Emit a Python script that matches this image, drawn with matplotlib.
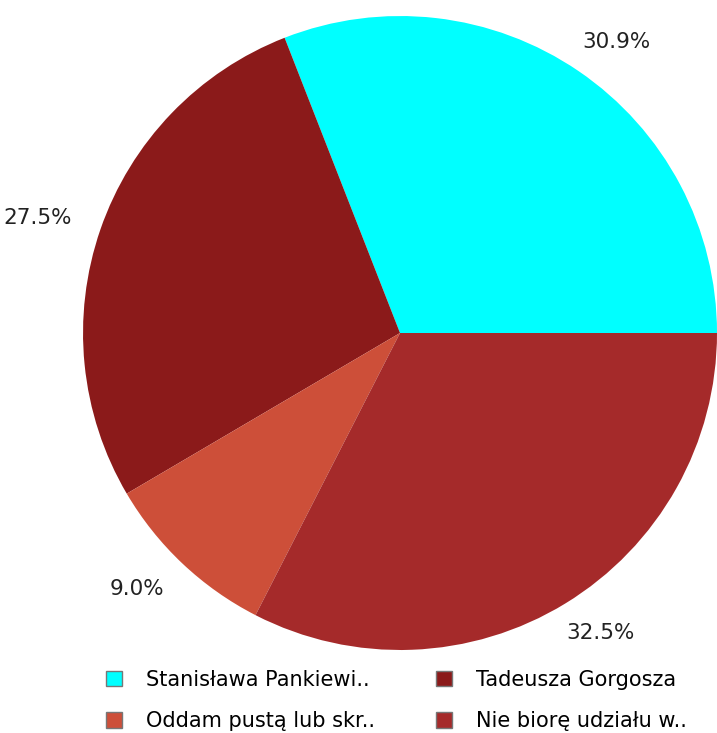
import numpy as np
import matplotlib.pyplot as plt
from matplotlib.patches import Patch

# data
labels = ['Stanisława Pankiewi..', 'Tadeusza Gorgosza', 'Oddam pustą lub skr..', 'Nie biorę udziału w..']
values = [30.9, 27.5, 9.0, 32.5]
colors = ['#00FFFF', '#8B1A1A', '#CD4F39', '#A52A2A']

fig = plt.figure(figsize=(7.17, 7.33), dpi=100)
ax = fig.add_axes([0.1158, 0.1132, 0.8842, 0.865])

wedges, _, pct = ax.pie(values, colors=colors, startangle=0, counterclock=True,
                        autopct='%1.1f%%', pctdistance=1.16,
                        wedgeprops={'linewidth': 0},
                        textprops={'fontsize': 15.5, 'color': '#222222'})
# labels sit on a slightly flattened ring
for w, t in zip(wedges, pct):
    a = np.deg2rad((w.theta1 + w.theta2) / 2)
    t.set_position((1.21 * np.cos(a), 1.11 * np.sin(a)))
ax.set_xlim(-1, 1)
ax.set_ylim(-1, 1)
ax.set_aspect('equal')

#legend
handles = [Patch(facecolor=c, edgecolor='#777777', linewidth=1) for c in colors]
order = [0, 2, 1, 3]
fig.legend([handles[i] for i in order], [labels[i] for i in order],
           loc='center', bbox_to_anchor=(0.553, 0.0443), ncol=2, frameon=False,
           fontsize=15, handlelength=0.77, handleheight=0.77,
           columnspacing=2.9, handletextpad=1.15, labelspacing=1.02)

plt.savefig('out.png')
